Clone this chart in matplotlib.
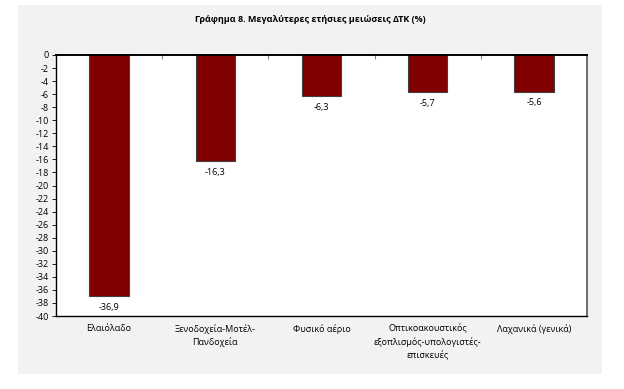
import matplotlib.pyplot as plt
import numpy as np

# data
categories = ["Ελαιόλαδο",
              "Ξενοδοχεία-Μοτέλ-\nΠανδοχεία",
              "Φυσικό αέριο",
              "Οπτικοακουστικός\nεξοπλισμός-υπολογιστές-\nεπισκευές",
              "Λαχανικά (γενικά)"]
values = [-36.9, -16.3, -6.3, -5.7, -5.6]
yticks = list(range(0, -41, -2))

plt.rcParams['font.family'] = ['Open Sans', 'DejaVu Sans']

fig = plt.figure(figsize=(6.24, 3.89), dpi=100)
fig.patch.set_facecolor('white')

# grey chart area behind the plot
bg = fig.add_axes([18/624, 1 - 374/389, (602-18)/624, (374-5)/389])
bg.set_facecolor('#f2f2f2')
bg.set_xticks([])
bg.set_yticks([])
for s in bg.spines.values():
    s.set_visible(False)
bg.set_zorder(0)

ax = fig.add_axes([56/624, 1 - 316/389, (587-56)/624, (316-55)/389])
ax.set_zorder(1)
ax.set_facecolor('white')

x = np.arange(len(categories))
bars = ax.bar(x, values, width=0.37, color='#800000', edgecolor='#404040', linewidth=0.8)

for xi, v in zip(x, values):
    ax.annotate(f"{v:.1f}".replace('.', ','), (xi, v), xytext=(0, -5),
                textcoords='offset points', ha='center', va='top', fontsize=6.5)

ax.set_xlim(-0.5, len(categories) - 0.5)
ax.set_ylim(-40, 0)
ax.set_yticks(yticks)
ax.set_yticklabels([str(t) for t in yticks], fontsize=6.5)
ax.tick_params(axis='y', direction='out', length=3, width=0.6, pad=2)

# category names sit below the frame, ticks between categories at the top axis
ax.set_xticks([])
ax.set_xticks(np.arange(0.5, len(categories) - 0.5), minor=True)
ax.tick_params(axis='x', which='minor', direction='in', length=3, width=0.8,
               bottom=False, top=True, color='#808080')
for xi, c in zip(x, categories):
    ax.text(xi, -40, c, transform=ax.transData, ha='center', va='top',
            fontsize=6.5, linespacing=1.5)
for t in ax.texts[-len(categories):]:
    t.set_position((t.get_position()[0], -41.2))

for s in ['left', 'bottom', 'top']:
    ax.spines[s].set_color('black')
    ax.spines[s].set_linewidth(1.0)
ax.spines['right'].set_color('#555555')
ax.spines['right'].set_linewidth(1.2)
ax.spines['top'].set_linewidth(1.4)

fig.text(310/624, 1 - 20/389, "Γράφημα 8. Μεγαλύτερες ετήσιες μειώσεις ΔΤΚ (%)",
         ha='center', va='center', fontsize=6.5, fontweight='bold')

fig.savefig('out.png', dpi=100)
